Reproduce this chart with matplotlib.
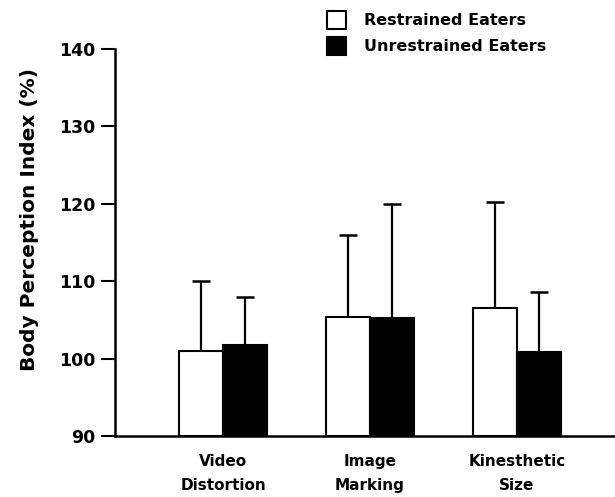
import matplotlib
matplotlib.use("Agg")
import matplotlib.pyplot as plt
import numpy as np

categories = ["Video\nDistortion", "Image\nMarking", "Kinesthetic\nSize"]
series_names = ["Restrained Eaters", "Unrestrained Eaters"]
restrained = [101.0, 105.4, 106.6]
restrained_err = [9.0, 10.6, 13.6]
unrestrained = [101.8, 105.2, 100.9]
unrestrained_err = [6.2, 14.8, 7.7]
yticks = [90, 100, 110, 120, 130, 140]

plt.rcParams['font.family'] = ['DejaVu Sans']
plt.rcParams['font.weight'] = 'bold'

fig = plt.figure(figsize=(6.15, 4.97), dpi=100)
ax = fig.add_axes([115/615, 1-436/497, 1-115/615, (436-49)/497])

x = np.arange(len(categories))
w = 0.30
base = 90
ax.bar(x - w/2, np.array(restrained) - base, w, bottom=base, color='white',
       edgecolor='black', linewidth=1.5, label=series_names[0], zorder=2)
ax.bar(x + w/2, np.array(unrestrained) - base, w, bottom=base, color='black',
       edgecolor='black', linewidth=1.5, label=series_names[1], zorder=2)
ax.errorbar(x - w/2, restrained, yerr=[np.zeros(3), restrained_err], fmt='none',
            ecolor='black', elinewidth=1.6, capsize=6.5, capthick=1.8, zorder=1)
ax.errorbar(x + w/2, unrestrained, yerr=[np.zeros(3), unrestrained_err], fmt='none',
            ecolor='black', elinewidth=1.6, capsize=6.5, capthick=1.8, zorder=1)

ax.set_ylim(90, 140)
ax.set_xlim(-0.735, 2.667)
ax.set_yticks(yticks)
ax.set_yticklabels([str(t) for t in yticks], fontsize=12.5, fontweight='bold')
ax.set_xticks(x)
ax.set_xticklabels(categories, fontsize=11, fontweight='bold', linespacing=1.75)
ax.tick_params(axis='x', length=0, pad=13)
ax.tick_params(axis='y', length=10, width=1.5, pad=4)
for s in ['top', 'right']:
    ax.spines[s].set_visible(False)
ax.spines['left'].set_linewidth(1.8)
ax.spines['bottom'].set_linewidth(1.8)

ax.set_ylabel("Body Perception Index (%)", fontsize=14.5, fontweight='bold')
ax.yaxis.set_label_coords(-0.152, 0.56)

leg = ax.legend(loc='upper left', bbox_to_anchor=(0.395, 1.135), frameon=False,
                fontsize=11.5, handlelength=1.2, handleheight=1.3,
                handletextpad=1.1, labelspacing=0.55)
for t in leg.get_texts():
    t.set_fontweight('bold')

fig.savefig("out.png", dpi=100)
